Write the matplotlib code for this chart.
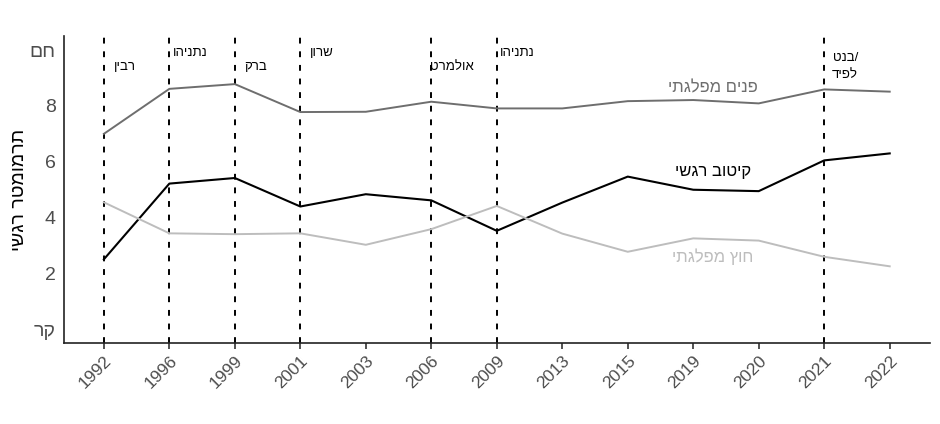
import matplotlib
matplotlib.use("Agg")
import matplotlib.pyplot as plt
import numpy as np

plt.rcParams['font.family'] = ['Liberation Sans', 'DejaVu Sans']

# ---- data ----
years = ["1992", "1996", "1999", "2001", "2003", "2006", "2009",
         "2013", "2015", "2019", "2020", "2021", "2022"]
inner_party = [7.00, 8.61, 8.78, 7.78, 7.79, 8.15, 7.91, 7.91, 8.17, 8.21, 8.09, 8.59, 8.51]
affective_pol = [2.51, 5.22, 5.42, 4.40, 4.84, 4.62, 3.53, 4.54, 5.47, 5.00, 4.95, 6.05, 6.30]
outer_party = [4.55, 3.44, 3.41, 3.44, 3.03, 3.59, 4.42, 3.43, 2.78, 3.26, 3.18, 2.60, 2.26]

pm_years = ["1992", "1996", "1999", "2001", "2006", "2009", "2021"]
pm_names = ["רבין", "נתניהו", "ברק", "שרון", "אולמרט", "נתניהו", "/בנט\nלפיד"]

series_names = ["פנים מפלגתי", "קיטוב רגשי", "חוץ מפלגתי"]
ytick_vals = [0, 2, 4, 6, 8, 10]
ytick_labels = ["קר", "2", "4", "6", "8", "חם"]
ylabel = "תרמומטר רגשי"


def vis(s):
    """Convert logical Hebrew string to visual order (line by line)."""
    return "\n".join(line[::-1] for line in s.split("\n"))


# ---- figure ----
fig = plt.figure(figsize=(9.4, 4.24), dpi=100)
ax = fig.add_axes([0.068, 0.19, 0.921, 0.725])

x = np.arange(len(years))
c_inner = "#6e6e6e"
c_aff = "#000000"
c_outer = "#bdbdbd"

ax.plot(x, inner_party, color=c_inner, lw=1.4, zorder=3)
ax.plot(x, affective_pol, color=c_aff, lw=1.5, zorder=3)
ax.plot(x, outer_party, color=c_outer, lw=1.4, zorder=3)

# vertical dashed lines for PM changes
for yr, nm, i in zip(pm_years, pm_names, range(len(pm_years))):
    xi = years.index(yr)
    ax.axvline(xi, color="black", lw=1.4, ls=(0, (3, 4)), zorder=2)
    if "\n" in nm:
        ty = 9.42
    else:
        ty = 9.4 if i % 2 == 0 else 9.9
    ax.text(xi + 0.32, ty, vis(nm), ha="center", va="center",
            fontsize=9.5, color="black", linespacing=1.55, zorder=4)

# series labels
lab_x = 9.3
ax.text(lab_x, 8.63, vis(series_names[0]), color=c_inner, fontsize=12,
        ha="center", va="center")
ax.text(lab_x, 5.64, vis(series_names[1]), color=c_aff, fontsize=12,
        ha="center", va="center")
ax.text(lab_x, 2.61, vis(series_names[2]), color=c_outer, fontsize=12,
        ha="center", va="center")

ax.set_xlim(-0.61, 12.61)
ax.set_ylim(-0.5, 10.5)

ax.set_xticks(x)
ax.set_xticklabels(years, rotation=45, ha="right", va="top",
                   rotation_mode="anchor", fontsize=12.5, color="#4d4d4d")
ax.set_yticks(ytick_vals)
ax.set_yticklabels([vis(t) for t in ytick_labels], fontsize=14, color="#4d4d4d")

ax.tick_params(axis="x", length=4, width=1.1, color="#222222", pad=3)
ax.tick_params(axis="y", length=0, pad=6)

for s in ["top", "right"]:
    ax.spines[s].set_visible(False)
for s in ["left", "bottom"]:
    ax.spines[s].set_linewidth(1.2)
    ax.spines[s].set_color("#222222")

ax.set_ylabel(vis(ylabel), fontsize=14, color="black")
ax.yaxis.set_label_coords(-0.041, 0.5)

fig.savefig("out.png", dpi=100)
